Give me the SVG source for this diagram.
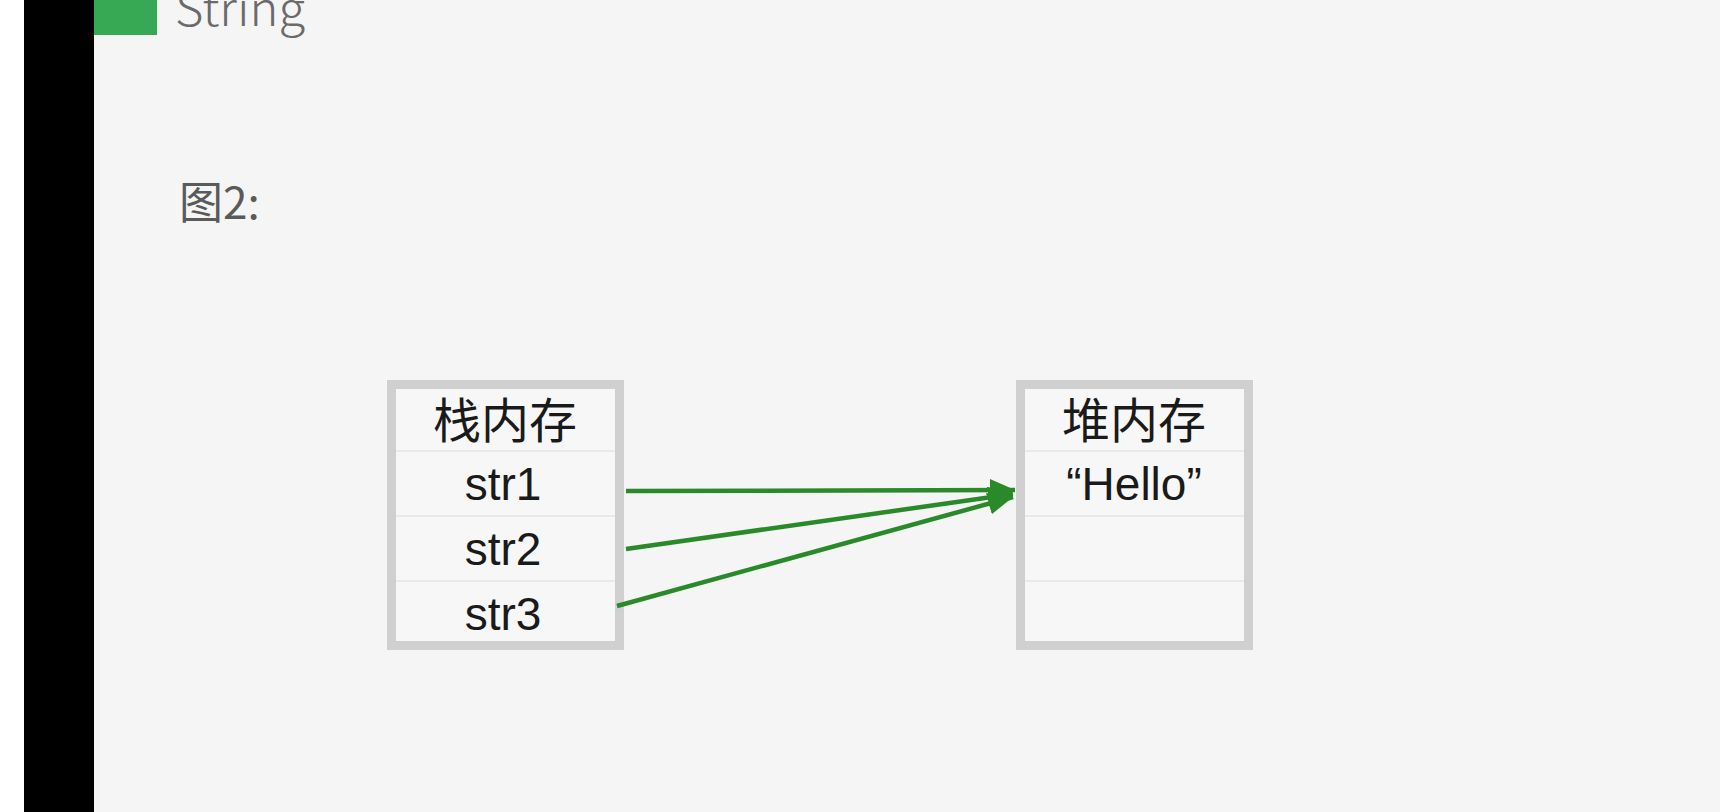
<svg xmlns="http://www.w3.org/2000/svg" width="1720" height="812" viewBox="0 0 1720 812">
  <style>
    .box { fill: #f7f7f7; stroke: #d0d0d0; stroke-width: 9; }
    .sep { stroke: #e4e4e4; stroke-width: 1.5; }
    .cjk { font-family: "Noto Sans CJK SC", "Noto Sans", sans-serif; font-weight: 400; font-size: 48px; fill: #1a1a1a; text-anchor: middle; }
    .lat { font-family: "Liberation Sans", Arial, sans-serif; font-size: 46px; fill: #1a1a1a; text-anchor: middle; }
    .conn { stroke: #2a8a2a; stroke-width: 4.5; fill: none; marker-end: url(#arrow); }
  </style>
  <defs>
    <marker id="arrow" markerUnits="userSpaceOnUse" markerWidth="28" markerHeight="24" refX="25" refY="11" orient="auto">
      <path d="M0,0 L25,11 L0,22 Z" fill="#2a8a2a"/>
    </marker>
  </defs>
  <rect x="0" y="0" width="1720" height="812" fill="#f5f5f5"/>
  <rect x="0" y="0" width="24" height="812" fill="#ffffff"/>
  <rect x="24" y="0" width="70" height="812" fill="#000000"/>
  <g id="title">
    <rect x="94" y="0" width="63" height="35" fill="#37a853"/>
    <text x="175" y="26" font-family="'Noto Sans CJK SC', 'Noto Sans', sans-serif" font-weight="300" font-size="46" fill="#6a6a6a" textLength="130" lengthAdjust="spacingAndGlyphs">String</text>
  </g>
  <g id="caption">
    <text x="179" y="219" font-family="'Noto Sans CJK SC', 'Noto Sans', sans-serif" font-size="44" fill="#5a5a5a">图2:</text>
  </g>
  <g id="stack">
    <rect class="box" x="391.5" y="384.5" width="228" height="261"/>
    <line class="sep" x1="396" y1="451" x2="615" y2="451"/>
    <line class="sep" x1="396" y1="516" x2="615" y2="516"/>
    <line class="sep" x1="396" y1="581" x2="615" y2="581"/>
    <text class="cjk" x="505" y="438">栈内存</text>
    <text class="lat" x="503" y="500">str1</text>
    <text class="lat" x="503" y="565">str2</text>
    <text class="lat" x="503" y="630">str3</text>
  </g>
  <g id="heap">
    <rect class="box" x="1020.5" y="384.5" width="228" height="261"/>
    <line class="sep" x1="1025" y1="451" x2="1244" y2="451"/>
    <line class="sep" x1="1025" y1="516" x2="1244" y2="516"/>
    <line class="sep" x1="1025" y1="581" x2="1244" y2="581"/>
    <text class="cjk" x="1134" y="438">堆内存</text>
    <text class="lat" x="1134" y="500">“Hello”</text>
  </g>
  <g id="connectors">
    <line class="conn" x1="626" y1="491" x2="1015" y2="490"/>
    <line class="conn" x1="626" y1="549" x2="1013" y2="494"/>
    <line class="conn" x1="617" y1="606" x2="1013" y2="497"/>
  </g>
</svg>
